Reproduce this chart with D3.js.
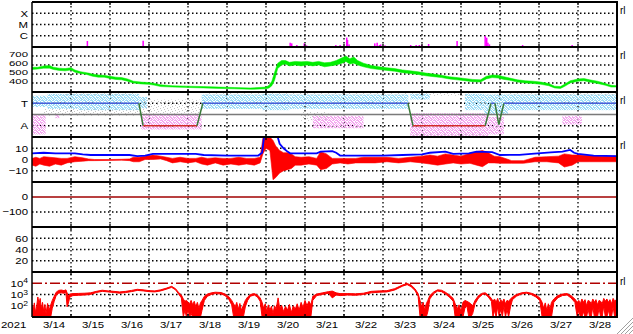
<!DOCTYPE html>
<html>
<head>
<meta charset="utf-8">
<script src="https://cdn.jsdelivr.net/npm/d3@7"></script>
<style>
html, body { margin: 0; padding: 0; background: #fff; }
svg { display: block; }
text { font-family: "Liberation Sans", Arial, sans-serif; font-size: 12px; fill: #000; }
</style>
</head>
<body>
<script>
// ---- data (days counted from 3/13 00:00) ----
var dayLabels = ["3/14","3/15","3/16","3/17","3/18","3/19","3/20","3/21","3/22","3/23","3/24","3/25","3/26","3/27","3/28"]
var yearLabel = "2021"

var xrayClassLabels = ["C","M","X"]
var xrayClassFlux = [1e-6, 1e-5, 1e-4]
var xrayFlux = [[1.42,3.4e-7],[2.85,3.6e-7],[6.62,2.4e-7],[6.66,2.1e-7],[6.79,1.5e-7],[6.98,2.1e-7],[7.04,1.4e-7],
  [7.79,1.5e-7],[7.9,1.5e-7],[8.07,6.8e-7],[8.09,4.2e-7],[8.13,1.7e-7],[8.79,2.1e-7],[8.85,2.4e-7],[8.91,1.5e-7],
  [8.94,1.7e-7],[9.05,1.4e-7],[9.16,1.2e-7],[9.71,1.5e-7],[9.85,1.5e-7],[9.93,1.5e-7],[9.99,1.5e-7],[10.17,1.85e-7],
  [10.9,3.4e-7],[11.62,9.5e-7],[11.66,6.7e-7],[11.69,2.4e-7],[11.73,1.7e-7],[11.92,1.2e-7],[12.58,1.5e-7],[13.85,1.5e-7]]

var speedTicks = [400, 500, 600, 700]
// [day, low, high] km/s
var speed = [[0.00,550,575],[0.15,555,575],[0.30,565,590],[0.45,565,595],[0.55,550,575],[0.70,540,565],[0.85,535,560],
  [1.00,545,570],[1.10,520,545],[1.25,505,525],[1.40,495,515],[1.55,475,500],[1.70,465,490],[1.85,465,485],[2.00,450,475],
  [2.15,440,465],[2.30,435,460],[2.45,420,445],[2.60,400,420],[2.80,390,410],[3.00,385,405],[3.15,375,395],[3.30,360,380],
  [3.60,355,370],[4.00,350,365],[4.40,345,360],[4.80,340,355],[5.20,335,350],[5.60,330,345],[6.00,335,355],[6.08,345,375],
  [6.15,370,420],[6.22,430,520],[6.30,560,620],[6.40,600,650],[6.50,610,650],[6.60,590,630],[6.75,600,640],[6.90,590,635],
  [7.05,600,640],[7.20,590,630],[7.35,600,640],[7.50,580,625],[7.65,590,630],[7.80,600,650],[7.95,620,680],[8.05,640,700],
  [8.15,610,670],[8.25,620,690],[8.35,600,650],[8.50,580,620],[8.70,560,595],[8.90,550,580],[9.10,540,570],[9.30,530,560],
  [9.50,515,545],[9.70,505,535],[9.90,495,525],[10.10,480,510],[10.30,470,500],[10.50,460,485],[10.70,445,470],[10.90,435,460],
  [11.10,425,450],[11.30,415,440],[11.50,410,435],[11.65,445,475],[11.80,460,490],[11.95,455,485],[12.10,440,470],[12.25,430,455],
  [12.45,410,435],[12.65,400,425],[12.85,395,420],[13.05,385,410],[13.25,370,395],[13.40,345,365],[13.55,340,360],[13.65,360,385],
  [13.80,400,425],[14.00,420,445],[14.15,425,450],[14.30,410,435],[14.50,395,420],[14.70,375,395],[14.85,355,375],[15.00,355,370]]

var sectorLabels = ["T","A"]
var sectorAngles = [270, 90]
var phiMid = 180
var sector = [[0,270],[2.74,270],[2.85,90],[4.23,90],[4.38,270],[9.64,270],[9.77,90],[11.62,90],[11.77,270],
  [11.87,270],[11.97,100],[12.1,270],[15,270]]
// [day from, day to, low angle, high angle]
var phiCyan = [[0.0,0.4,240,330],[0.4,1.2,225,345],[1.2,2.75,215,345],[2.75,2.95,230,320],[4.35,5.9,225,340],
  [5.9,6.6,215,345],[6.6,9.65,225,340],[9.7,10.2,300,345],[11.1,11.6,215,345],[11.6,12.2,180,340],[12.2,15,215,340]]
var phiPink = [[0.0,0.35,20,175],[0.6,0.7,150,180],[2.8,4.35,60,185],[7.2,8.5,70,170],[9.7,11.7,10,190],
  [11.7,12.1,20,160],[13.6,14.1,100,170]]
var phiGray = [[0.3,2.8,170,230],[0.8,2.6,330,355],[2.8,4.3,180,300],[4.4,9.6,340,355],[6.9,7.6,130,200],
  [9.7,11.6,0,30],[9.7,11.2,330,355],[12.2,15,330,355]]

var bTicks = [10, 0, -10]
var bt = [[0,5.5],[0.3,6],[0.6,5.5],[1.1,5.5],[1.3,4.5],[1.5,4],[2.5,4],[2.7,3],[2.9,3.5],[3.1,5],[3.6,5],[4.2,5],
  [4.4,4],[5.0,3.5],[5.8,3.5],[5.9,6],[5.95,21],[6.3,21],[6.35,14],[6.45,10],[6.55,7],[6.62,5.5],[7.3,5.5],[7.4,7],
  [7.7,7.5],[7.8,6],[7.9,3.5],[9.0,3.5],[9.5,4],[10.0,4.5],[10.2,6],[10.6,7],[10.8,5],[11.2,5.5],[11.4,7],[11.8,6.5],
  [12.0,4],[12.5,4.2],[12.8,5],[13.3,6.4],[13.6,7],[13.8,8.5],[13.9,6],[14.0,5],[14.4,3.5],[15,3]]
// [day, low, high] nT
var bz = [[0.0,-5,1],[0.1,-6,2],[0.2,-4,1],[0.3,-5,2.5],[0.45,-6,2],[0.6,-4,1.5],[0.75,-5,1],[0.9,-3,1],[1.1,-2,2.5],
  [1.3,-1.5,1.5],[1.45,-1,0.5],[1.6,-1,0],[2.0,-0.8,0],[2.3,-0.6,0.2],[2.5,-1,0.5],[2.6,-2,2],[2.75,-2,2],[2.9,0,3],
  [3.1,0,4],[3.3,0.5,3],[3.45,-1,2],[3.6,-3,1],[3.8,-2,2],[4.0,-3,1],[4.2,-2,1],[4.35,-4,2],[4.5,-5,1],[4.7,-3,1.5],
  [4.9,-5,1],[5.1,-4,1],[5.3,-5,2],[5.5,-4,1],[5.7,-5,1],[5.85,-3,2],[5.92,5,19],[6.0,10,21],[6.1,8,21],[6.18,-18,17],
  [6.25,-16,12],[6.35,-12,8],[6.45,-10,6],[6.55,-9,6],[6.65,-8,5],[6.75,-5,2.5],[6.9,-5,2],[7.1,-4,2.5],[7.3,-5,1],
  [7.4,-9,7],[7.55,-8,5],[7.7,-4,1],[7.9,-3,1],[8.1,-4,1],[8.3,-3,1],[8.5,-3,2],[8.8,-3,2],[9.1,-2,2],[9.4,-3,1],
  [9.7,-2,2],[10.0,-3,3],[10.2,-4,4],[10.4,-5,3],[10.6,-4,5],[10.8,-3,4],[11.0,-4,3],[11.23,-3.4,5.5],[11.4,-5,7],
  [11.55,-6.4,8],[11.7,-3,6],[11.85,-3,3],[12.0,-3.4,2.5],[12.3,-3.4,-1],[12.6,-3.4,-1],[12.9,-2,2],[13.2,-2,2.5],
  [13.5,-3,3],[13.65,-6.7,5],[13.85,-5,4],[14.0,-2,4],[14.3,-2,3.5],[14.6,-2,3],[15,-2,3]]

var dstTicks = [0, -100]
var dst = [[0,0],[15,0]]

var p6Ticks = [60, 40, 20]

var fluxTicks = [1e4, 1e3, 1e2]
var fluxTickLabels = [["10","4"],["10","3"],["10","2"]]
var fluxAlert = 1e4
// [day, low, high] electrons; 1 = below the axis
var flux = [[0.00,1,120],[0.03,1,40],[0.06,1,180],[0.09,1,25],[0.12,1,90],[0.15,1,600],[0.18,1,150],[0.21,1,450],
  [0.24,1,50],[0.27,1,200],[0.30,1,30],[0.33,1,130],[0.36,1,20],[0.40,1,160],[0.44,1,40],[0.48,1,120],
  [0.52,60,300],[0.57,250,700],[0.62,800,1600],[0.68,1300,2300],[0.75,1400,2500],[0.82,1300,2200],[0.87,1500,2600],
  [0.90,80,1400],[0.93,150,700],[0.97,600,1100],[1.05,800,1200],[1.2,850,1250],[1.35,900,1300],[1.5,1000,1400],
  [1.65,1500,1900],[1.8,1900,2400],[1.95,1700,2100],[2.1,1500,1900],[2.25,1300,1700],[2.4,1500,1900],[2.55,1800,2300],
  [2.7,2300,2900],[2.85,2100,2600],[3.0,1800,2200],[3.15,1700,2100],[3.3,2100,2600],[3.45,3000,3700],[3.58,4300,5300],
  [3.68,2600,3300],[3.76,1100,1500],[3.83,500,900],
  [3.88,1,400],[3.92,40,250],[3.96,1,300],[4.0,50,200],[4.04,1,150],[4.08,20,300],[4.12,1,120],[4.16,1,250],[4.2,1,80],
  [4.24,1,200],[4.28,1,60],[4.32,1,180],[4.36,40,300],
  [4.42,300,700],[4.5,700,1100],[4.6,1000,1400],[4.7,1200,1600],[4.85,1100,1500],[4.95,800,1100],[5.05,350,600],
  [5.12,120,300],[5.17,1,150],[5.21,1,80],[5.25,1,200],[5.29,1,50],[5.33,1,160],[5.37,1,40],[5.42,1,110],[5.47,80,300],
  [5.53,300,600],[5.6,700,1000],[5.7,900,1200],[5.78,600,900],[5.85,250,500],
  [5.9,1,200],[5.94,1,60],[5.98,1,150],[6.02,1,30],[6.06,1,120],[6.1,1,40],[6.14,1,90],[6.18,1,20],[6.22,1,100],
  [6.26,1,50],[6.31,1,500],[6.35,1,60],[6.4,1,110],[6.45,1,30],[6.5,1,90],[6.55,1,40],[6.6,1,130],[6.65,1,25],
  [6.7,1,100],[6.75,1,50],[6.8,1,150],[6.85,1,40],[6.9,1,200],[6.95,1,70],[7.0,1,300],[7.05,1,100],[7.1,1,250],[7.15,1,120],
  [7.2,300,700],[7.3,800,1100],[7.45,1000,1400],[7.6,1300,1800],[7.7,500,2000],[7.8,900,1400],[7.9,800,1200],
  [8.1,900,1200],[8.3,850,1150],[8.5,1000,1300],[8.7,1400,1900],[8.9,1600,2100],[9.1,1700,2200],[9.3,2500,3300],
  [9.5,5500,7000],[9.62,7500,9500],[9.72,5000,7000],[9.82,2300,3200],[9.9,700,1200],
  [9.95,1,300],[9.99,1,80],[10.03,1,200],[10.07,1,40],[10.11,1,150],[10.15,30,300],
  [10.2,400,800],[10.3,1200,1700],[10.4,2000,2600],[10.5,1800,2400],[10.6,1100,1600],[10.7,600,900],[10.8,250,450],
  [10.85,1,150],[10.9,1,50],[10.95,1,120],[11.0,1,30],[11.05,1,200],[11.1,60,300],[11.15,100,250],[11.2,1,200],
  [11.25,1,150],[11.3,20,100],
  [11.36,150,300],[11.45,500,800],[11.55,1000,1300],[11.62,1100,1400],[11.7,600,900],[11.78,250,450],
  [11.82,1,250],[11.86,40,400],[11.9,1,200],[11.94,80,450],[11.98,1,150],[12.02,60,350],[12.06,1,200],[12.1,100,400],
  [12.14,1,150],[12.18,50,300],[12.22,1,250],[12.27,80,400],
  [12.32,350,600],[12.42,700,1000],[12.55,1100,1400],[12.68,1300,1600],[12.8,1000,1300],[12.92,600,900],[13.02,300,500],
  [13.08,1,200],[13.12,1,60],[13.16,1,180],[13.2,1,40],[13.24,1,150],[13.28,1,50],[13.32,1,200],
  [13.38,200,400],[13.48,500,800],[13.6,800,1100],[13.72,900,1200],[13.82,500,800],[13.92,200,400],
  [13.98,1,200],[14.02,40,300],[14.06,1,150],[14.1,1,400],[14.14,30,200],[14.18,1,350],[14.22,1,100],[14.26,50,300],
  [14.3,1,250],[14.34,1,150],[14.38,80,400],[14.42,1,200],[14.46,1,350],[14.5,1,120],[14.54,60,300],[14.58,1,250],
  [14.62,1,150],[14.66,100,450],[14.7,1,250],[14.74,1,400],[14.78,40,200],[14.82,1,350],[14.86,1,150],[14.9,80,450],
  [14.94,1,250],[14.98,1,350]]

var rightTag = "rl"

// ---- layout ----
var w = 633, h = 334
var left = 32, right = 617
var tops = [2, 47, 92, 137, 182, 227, 272], ph = 45
var bottom = tops[6] + ph

var x = d3.scaleLinear().domain([0, 15]).range([left, right])
function span(i) { return [tops[i] + ph, tops[i]] }
var yX = d3.scaleLog().domain([1e-7, 1e-3]).range(span(0)).clamp(true)
var ySpd = d3.scaleLinear().domain([300, 800]).range(span(1)).clamp(true)
var yPhi = d3.scaleLinear().domain([0, 360]).range(span(2))
var yB = d3.scaleLinear().domain([-20, 20]).range(span(3)).clamp(true)
var yDst = d3.scaleLinear().domain([-200, 100]).range(span(4))
var yP6 = d3.scaleLinear().domain([0, 80]).range(span(5))
var yE = d3.scaleLog().domain([10, 1e5]).range(span(6)).clamp(true)

var svg = d3.select("body").append("svg").attr("width", w).attr("height", h)
var defs = svg.append("defs")

tops.forEach(function(t, i) {
  defs.append("clipPath").attr("id", "clip" + i)
    .append("rect").attr("x", left).attr("y", t).attr("width", right - left).attr("height", ph)
})

// speckle fills for the scattered angle points (irregular 7x5 tile)
function speckle(id, color, cells) {
  var p = defs.append("pattern").attr("id", id).attr("width", 7).attr("height", 5)
    .attr("patternUnits", "userSpaceOnUse")
  cells.forEach(function(c) {
    p.append("rect").attr("x", c[0]).attr("y", c[1]).attr("width", 1).attr("height", 1).attr("fill", color)
  })
}
var dense = [[0,0],[1,0],[3,0],[4,0],[6,0],[1,1],[2,1],[5,1],[0,2],[2,2],[3,2],[5,2],[6,2],
  [1,3],[3,3],[4,3],[6,3],[0,4],[2,4],[4,4],[5,4]]
var sparse = [[0,0],[4,1],[2,2],[6,3],[3,4]]
speckle("pCyan", "#9edcf6", dense)
speckle("pPink", "#f4aaf0", dense)
speckle("pGray", "#c4c4c4", sparse)

var grid = svg.append("g").attr("stroke", "#000").attr("stroke-width", 1.3).attr("stroke-dasharray", "1.5,2.5")

// vertical day grid
d3.range(1, 15).forEach(function(k) {
  grid.append("line").attr("x1", x(k)).attr("x2", x(k)).attr("y1", tops[0]).attr("y2", bottom)
})

// horizontal grid lines per panel
function hgrid(scale, vals) {
  vals.forEach(function(v) {
    grid.append("line").attr("x1", left).attr("x2", right).attr("y1", scale(v)).attr("y2", scale(v))
  })
}
hgrid(yX, xrayClassFlux)
hgrid(ySpd, speedTicks)
hgrid(yPhi, sectorAngles)
hgrid(yB, [10, -10])
hgrid(yDst, [-100])
hgrid(yP6, p6Ticks)
hgrid(yE, [1e3, 1e2])

// ---- panel 1: x-ray ----
svg.append("g").attr("clip-path", "url(#clip0)").selectAll("rect").data(xrayFlux).join("rect")
  .attr("x", function(d) { return x(d[0]) - 0.75 }).attr("width", 1.5)
  .attr("y", function(d) { return yX(d[1]) }).attr("height", function(d) { return yX(1e-7) - yX(d[1]) })
  .attr("fill", "#ff00ff")

// ---- panel 2: speed ----
svg.append("path").attr("clip-path", "url(#clip1)").datum(speed)
  .attr("d", d3.area().x(function(d) { return x(d[0]) }).y0(function(d) { return ySpd(d[1]) }).y1(function(d) { return ySpd(d[2]) }))
  .attr("fill", "#00ee00").attr("stroke", "#00ee00").attr("stroke-width", 0.5)

// ---- panel 3: phi angle ----
var g3 = svg.append("g").attr("clip-path", "url(#clip2)")
function cloud(data, fill) {
  g3.append("g").selectAll("rect").data(data).join("rect")
    .attr("x", function(d) { return x(d[0]) }).attr("width", function(d) { return x(d[1]) - x(d[0]) })
    .attr("y", function(d) { return yPhi(d[3]) }).attr("height", function(d) { return yPhi(d[2]) - yPhi(d[3]) })
    .attr("fill", fill)
}
cloud(phiGray, "url(#pGray)")
cloud(phiPink, "url(#pPink)")
cloud(phiCyan, "url(#pCyan)")
g3.append("line").attr("x1", left).attr("x2", right).attr("y1", yPhi(phiMid)).attr("y2", yPhi(phiMid))
  .attr("stroke", "#7a7a7a").attr("stroke-width", 1.5)
var segs = d3.pairs(sector)
g3.selectAll(".seg").data(segs).join("line")
  .attr("x1", function(d) { return x(d[0][0]) }).attr("y1", function(d) { return yPhi(d[0][1]) })
  .attr("x2", function(d) { return x(d[1][0]) }).attr("y2", function(d) { return yPhi(d[1][1]) })
  .attr("stroke", function(d) {
    if (d[0][1] == 270 && d[1][1] == 270) return "#4a5fd8"
    if (d[0][1] == 90 && d[1][1] == 90) return "#d42a2a"
    return "#3a7a3a"
  })
  .attr("stroke-width", 1.5)

// ---- panel 4: Bt / Bz ----
var g4 = svg.append("g").attr("clip-path", "url(#clip3)")
g4.append("path").datum(bz)
  .attr("d", d3.area().x(function(d) { return x(d[0]) }).y0(function(d) { return yB(d[1]) }).y1(function(d) { return yB(d[2]) }))
  .attr("fill", "#ff0000").attr("stroke", "#ff0000").attr("stroke-width", 0.6)
g4.append("path").datum(bt)
  .attr("d", d3.line().x(function(d) { return x(d[0]) }).y(function(d) { return yB(d[1]) }))
  .attr("fill", "none").attr("stroke", "#0000ff").attr("stroke-width", 1.8)

// ---- panel 5 ----
svg.append("path").attr("clip-path", "url(#clip4)").datum(dst)
  .attr("d", d3.line().x(function(d) { return x(d[0]) }).y(function(d) { return yDst(d[1]) }))
  .attr("fill", "none").attr("stroke", "#a00000").attr("stroke-width", 1.5)

// ---- panel 7: electrons ----
var g7 = svg.append("g").attr("clip-path", "url(#clip6)")
g7.append("line").attr("x1", left).attr("x2", right).attr("y1", yE(fluxAlert)).attr("y2", yE(fluxAlert))
  .attr("stroke", "#b00000").attr("stroke-width", 1.5).attr("stroke-dasharray", "10,3,2,3")
g7.append("path").datum(flux)
  .attr("d", d3.area().x(function(d) { return x(d[0]) }).y0(function(d) { return yE(d[1]) }).y1(function(d) { return yE(d[2]) }))
  .attr("fill", "#ff0000").attr("stroke", "#ff0000").attr("stroke-width", 1)

// ---- frame ----
var frame = svg.append("g").attr("stroke", "#000")
tops.concat([bottom]).forEach(function(t) {
  frame.append("line").attr("x1", left).attr("x2", right + 1).attr("y1", t).attr("y2", t).attr("stroke-width", 2)
  d3.range(1, 15).forEach(function(k) {
    frame.append("line").attr("x1", x(k)).attr("x2", x(k))
      .attr("y1", Math.max(tops[0], t - 3)).attr("y2", Math.min(bottom, t + 3)).attr("stroke-width", 1.3)
  })
})
frame.append("line").attr("x1", left).attr("x2", left).attr("y1", tops[0]).attr("y2", bottom).attr("stroke-width", 1.5)
frame.append("line").attr("x1", right).attr("x2", right).attr("y1", tops[0] - 1).attr("y2", bottom + 1).attr("stroke-width", 2)

// ---- left labels (squat bitmap-like glyphs) ----
var lab = svg.append("g").attr("text-anchor", "end")
function putText(g, px, py, anchorDy, sy) {
  return g.append("text").attr("transform", "translate(" + px + "," + py + ") scale(0.95," + (sy || 0.8) + ")").attr("dy", anchorDy)
}
function labels(scale, vals, texts, dy, sy) {
  vals.forEach(function(v, i) {
    putText(lab, 28, scale(v) + (dy || 0), "0.36em", sy).text(texts[i])
  })
}
labels(yX, xrayClassFlux, xrayClassLabels)
labels(ySpd, speedTicks, speedTicks, -1.5, 0.66)
labels(yPhi, sectorAngles, sectorLabels)
labels(yB, bTicks, bTicks.map(function(v) { return v == -10 ? "\u221210" : v }))
labels(yDst, dstTicks, dstTicks.map(function(v) { return v < 0 ? "\u2212" + (-v) : v }))
labels(yP6, p6Ticks, p6Ticks)
fluxTicks.forEach(function(v, i) {
  var t = putText(lab, 28, yE(v), "0.36em")
  t.append("tspan").text(fluxTickLabels[i][0])
  t.append("tspan").attr("dy", "-0.45em").attr("font-size", "9px").text(fluxTickLabels[i][1])
});

// ---- right tags ----
[0, 1, 2, 3].forEach(function(i) {
  svg.append("text").attr("x", 620).attr("y", tops[i] + 8).attr("dy", "0.36em").style("font-size", "10px").text(rightTag)
});
svg.append("text").attr("x", 620).attr("y", yE(fluxAlert) - 2).attr("dy", "0.36em").style("font-size", "10px").text(rightTag)

// ---- bottom labels ----
putText(svg, 1, 328, 0).text(yearLabel)
var bl = svg.append("g").attr("text-anchor", "middle")
dayLabels.forEach(function(d, i) {
  putText(bl, x(i + 1) - 17, 328, 0).text(d)
})

// window resize grip
svg.append("g").attr("stroke", "#a0a0a0").attr("stroke-width", 1).selectAll("line").data([4, 8, 12, 16]).join("line")
  .attr("x1", function(k) { return w - k }).attr("y1", h).attr("x2", w).attr("y2", function(k) { return h - k })
</script>
</body>
</html>
